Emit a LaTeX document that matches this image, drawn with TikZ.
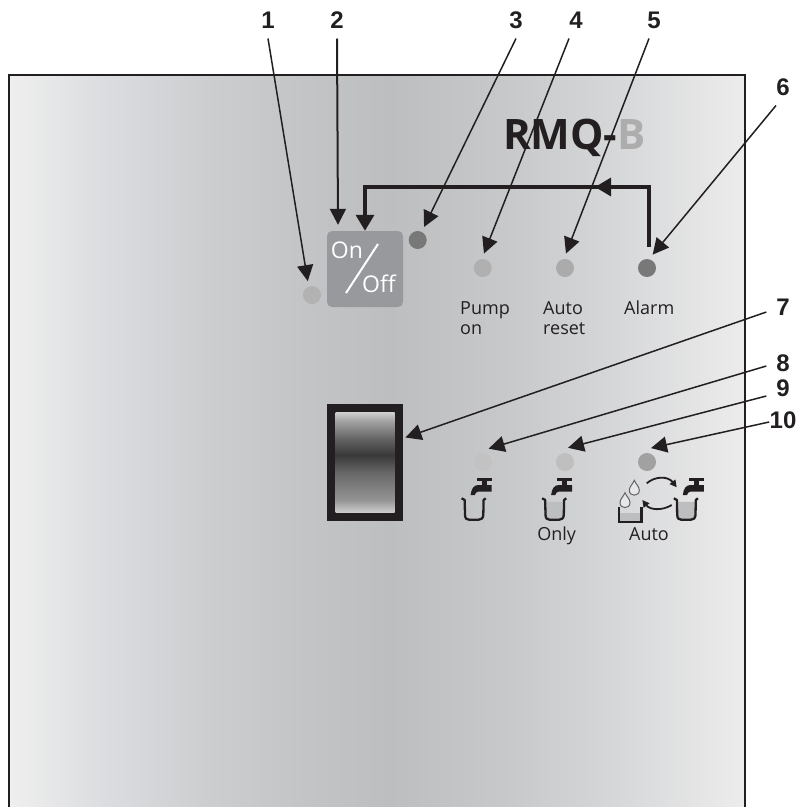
\documentclass[tikz,border=0pt]{standalone}
\usepackage{fontspec}
\setmainfont{Liberation Sans}
\newfontfamily\panelfont{Open Sans}
\usetikzlibrary{arrows.meta}
\definecolor{ink}{HTML}{231F20}
\definecolor{bluegrey}{HTML}{98999C}
\definecolor{water}{HTML}{BDBEC0}
\definecolor{dropfill}{HTML}{E6E7E8}
\definecolor{pa}{HTML}{EFEFEF}
\definecolor{pb}{HTML}{DCDDE0}
\definecolor{pc}{HTML}{CDCED0}
\definecolor{pd}{HTML}{C3C4C6}
\definecolor{pe}{HTML}{BDBEC0}
\definecolor{pf}{HTML}{C8C9CB}
\definecolor{pg}{HTML}{D6D7D9}
\definecolor{ph}{HTML}{EBEBEB}
\pgfdeclarehorizontalshading{panelshade}{100bp}{
  color(0bp)=(pa);
  color(25bp)=(pa);
  color(31.3bp)=(pb);
  color(38.3bp)=(pc);
  color(45.2bp)=(pd);
  color(50.9bp)=(pe);
  color(59.2bp)=(pf);
  color(66.2bp)=(pg);
  color(74.5bp)=(ph);
  color(100bp)=(ph)}
\pgfdeclareverticalshading{rockershade}{100bp}{
  color(0bp)=(white!80!black);
  color(25bp)=(white!80!black);
  color(31bp)=(white!58!black);
  color(45bp)=(white!40!black);
  color(53.5bp)=(white!22!black);
  color(62bp)=(white!40!black);
  color(70bp)=(white!62!black);
  color(75bp)=(white!82!black);
  color(100bp)=(white!82!black)}
\tikzset{
  numlabel/.style={font=\fontsize{24}{24}\selectfont\bfseries, text=ink, inner sep=0pt, outer sep=10pt, text height=17pt, text depth=0pt},
  leader/.style={draw=ink, line width=1.5pt, -{Triangle[length=16pt,width=16pt]}},
  dotlamp/.style={circle, minimum size=18pt, inner sep=0pt, outer sep=5.5pt, fill=#1},
  panellabel/.style={font=\panelfont\fontsize{18}{20}\selectfont, text=ink, inner sep=0pt},
  onofftext/.style={font=\panelfont\fontsize{23}{24}\selectfont, text=white, inner sep=0pt},
  loopline/.style={draw=ink, line width=3.3pt, -{Triangle[length=16pt,width=18pt]}},
  tapcup/.pic={
    \fill[ink] (3.3,-20) rectangle (18.3,-17.3);
    \fill[ink] (8.3,-17.3) rectangle (13.3,-13.3);
    \fill[ink] (18.3,-13.3) -- (18.3,-6.7) -- (5,-6.7) .. controls (3,-6.7) and (2,-5) .. (1.5,-3.3) -- (-2.7,-3.3) .. controls (-2,-9) and (0,-13.3) .. (5,-13.3) -- cycle;
    \draw[ink, line width=2.3pt, line join=round] (-11.7,0) -- (-8.6,1.7) -- (-8.3,16.7) .. controls (-8,20) and (-7,21.5) .. (-4,21.5) -- (5,21.5) .. controls (8,21.5) and (9.7,20) .. (10,16.7) -- (10.3,1.7) -- (12.4,0);
  },
  cupwater/.pic={
    \fill[water] (-8,3.5) -- (-7.6,17) .. controls (-7.3,19.5) and (-6,20.7) .. (-4,20.7) -- (5,20.7) .. controls (7,20.7) and (9,19.5) .. (9.2,17) -- (9.6,3.5) -- cycle;
  },
  waterdrop/.pic={
    \draw[draw=ink!70, fill=dropfill, line width=1pt] (0,-8) .. controls (1.5,-4) and (5,-2) .. (5,2) .. controls (5,8.5) and (-5,8.5) .. (-5,2) .. controls (-5,-2) and (-1.5,-4) .. (0,-8) -- cycle;
  },
}
\begin{document}
\begin{tikzpicture}[x=1pt,y=-1pt]
\useasboundingbox (0,0) rectangle (799,807);
% panel
\shade[shading=panelshade] (9,75) rectangle (745,806);
\draw[ink, line width=2.8pt] (9,807) -- (9,75) -- (745,75) -- (745,807);
% logo
\node[anchor=base west, inner sep=0pt, font=\panelfont\bfseries\fontsize{42}{42}\selectfont, text=ink] (logo) at (503,149.5) {RMQ-\textcolor{white!68!black}{B}};
% on/off
\node[fill=bluegrey, rounded corners=5pt, minimum width=76pt, minimum height=76pt, inner sep=0pt] (onoff) at (365,269) {};
\node[onofftext] (ontext) at (347,250) {On};
\node[onofftext] (offtext) at (379,284) {Off};
\draw[white, line width=2pt] (378,244) -- (346,293);
% lamps
\node[dotlamp=white!70!black] (d1) at (312,295) {};
\node[dotlamp=white!47!black] (d3) at (417.7,240) {};
\node[dotlamp=white!69!black] (d4) at (482.7,268) {};
\node[dotlamp=white!67!black] (d5) at (565,268) {};
\node[dotlamp=white!47!black] (d6) at (647,268) {};
\node[dotlamp=white!76!black] (d8) at (483,462) {};
\node[dotlamp=white!75!black] (d9) at (565,462) {};
\node[dotlamp=white!63!black] (d10) at (647,462) {};
% panel texts
\node[panellabel, anchor=base west, align=left] (pump) at (460,314) {Pump};
\node[panellabel, anchor=base west] (pumpon) at (460,334) {on};
\node[panellabel, anchor=base west] (auto) at (543,314) {Auto};
\node[panellabel, anchor=base west] (reset) at (543,334) {reset};
\node[panellabel, anchor=base west] (alarm) at (624,314) {Alarm};
\node[panellabel, anchor=base] (only) at (556.7,540) {Only};
\node[panellabel, anchor=base] (autob) at (649,540) {Auto};
% rocker switch
\node[fill=ink, minimum width=76.5pt, minimum height=117pt, inner sep=0pt] (rocker) at (365,462.5) {};
\shade[shading=rockershade] (335.7,412) rectangle (394.7,512);
% taps
\pic at (473.3,498.3) {tapcup};
\pic at (553.8,498.3) {cupwater};
\pic at (553.8,498.3) {tapcup};
\pic at (685.5,498.3) {cupwater};
\pic at (685.5,498.3) {tapcup};
% tub
\fill[water] (619,513) rectangle (641,521);
\draw[ink, line width=2.3pt] (619,506.7) -- (619,521.7) -- (641.5,521.7) -- (641.5,506.7);
\pic at (634.3,488.3) {waterdrop};
\pic at (625,500.7) {waterdrop};
\draw[ink, line width=1.8pt, -{Triangle[length=7pt,width=7pt]}] (646.7,483.3) .. controls (655,476) and (668,476) .. (676.7,487.3);
\draw[ink, line width=1.8pt, -{Triangle[length=7pt,width=7pt]}] (671.7,505) .. controls (662,511) and (650,510) .. (642.3,500);
% number labels
\node[numlabel] (n1) at (268,20) {1};
\node[numlabel] (n2) at (337,20) {2};
\node[numlabel] (n3) at (516,20) {3};
\node[numlabel] (n4) at (576,20) {4};
\node[numlabel] (n5) at (654,20) {5};
\node[numlabel] (n6) at (783,87) {6};
\node[numlabel] (n7) at (783,307) {7};
\node[numlabel] (n8) at (783,363) {8};
\node[numlabel] (n9) at (783,388) {9};
\node[numlabel] (n10) at (783,420) {10};
% loop arrow
\coordinate (loopmid) at (500,187);
\coordinate (looptip) at (595,187);
\coordinate (loopfrom) at (625,187);
\draw[loopline] ([xshift=2pt,yshift=6.5pt]d6.north) |- (loopmid) -| (onoff.north);
\draw[loopline] (loopfrom) -- (looptip);
% leaders
\draw[leader] (n1.south) -- (d1.107);
\draw[leader, line width=2pt] (n2.south) -- ([yshift=6pt,xshift=1pt]onoff.north -| n2.south);
\draw[leader] (n3.south) -- (d3.64);
\draw[leader] ([xshift=-7pt]n4.south) -- (d4.85);
\draw[leader] ([xshift=-5pt]n5.south) -- (d5.86);
\draw[leader] ([xshift=-7pt]n6.south) -- (d6.67);
\draw[leader] ([yshift=-5pt]n7.west) -- ([shift={(2pt,25pt)}]rocker.east);
\draw[leader] ([yshift=-3pt]n8.west) -- (d8.67);
\draw[leader] ([yshift=-8pt]n9.west) -- (d9.78);
\draw[leader] ([xshift=9.5pt,yshift=-2pt]n10.west) -- (d10.74);
\end{tikzpicture}
\end{document}
